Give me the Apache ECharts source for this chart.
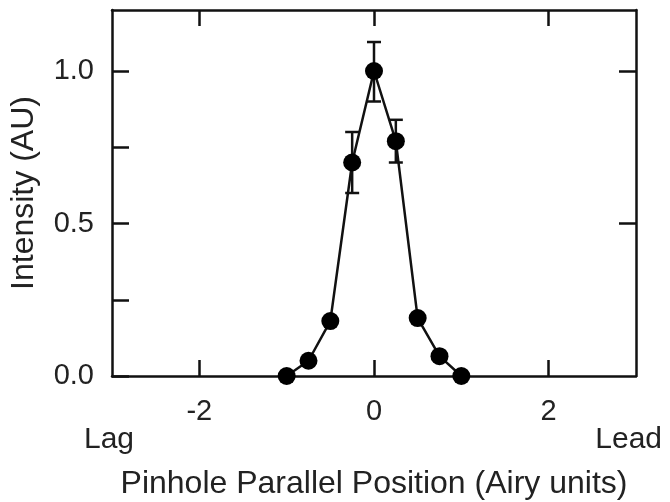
<!DOCTYPE html>
<html>
<head>
    <meta charset="utf-8">
    <title>Pinhole intensity</title>
    <script src="https://cdn.jsdelivr.net/npm/echarts@6/dist/echarts.min.js"></script>
    <style>
        html, body { margin: 0; padding: 0; background: #fff; }
        #main { width: 670px; height: 502px; }
    </style>
</head>
<body>
    <div id="main"></div>
    <script type="text/javascript">
        // pinhole positions (Airy units) and measured intensity
        var positions = [-1, -0.75, -0.5, -0.25, 0, 0.25, 0.5, 0.75, 1];
        var intensity = [0.0, 0.05, 0.18, 0.70, 1.0, 0.77, 0.19, 0.065, 0.0];
        // error bars: [position, low, high]
        var errorBars = [
            [-0.25, 0.60, 0.80],
            [0, 0.90, 1.095],
            [0.25, 0.70, 0.84]
        ];
        var xTickValues = [-2, 0, 2];
        var yTickValues = [0, 0.25, 0.5, 0.75, 1.0];
        var yLabelValues = [0, 0.5, 1.0];
        var yRightTicks = [0.5, 1.0];

        var textColor = '#222';
        var font = 'Liberation Sans, Arial, sans-serif';

        var lineData = [];
        for (var i = 0; i < positions.length; i++) {
            lineData.push([positions[i], intensity[i]]);
        }

        var myChart = echarts.init(document.getElementById('main'));

        var axisLine = { show: true, onZero: false, lineStyle: { color: '#111', width: 2.5 } };
        var tickStyle = { color: '#111', width: 2.5 };

        var option = {
            animation: false,
            grid: { left: 112, right: 34, top: 10, bottom: 126, containLabel: false, outerBoundsMode: 'none' },
            xAxis: [{
                type: 'value',
                min: -3,
                max: 3,
                position: 'bottom',
                axisLine: axisLine,
                splitLine: { show: false },
                axisTick: { show: true, inside: true, length: 16, customValues: xTickValues, lineStyle: tickStyle },
                axisLabel: { customValues: xTickValues, margin: 21, fontSize: 29,
                    color: textColor, fontFamily: font },
                name: 'Pinhole Parallel Position (Airy units)',
                nameLocation: 'middle',
                nameGap: 92,
                nameTextStyle: { fontSize: 32, color: textColor, fontFamily: font }
            }, {
                type: 'value',
                min: -3,
                max: 3,
                position: 'top',
                axisLine: axisLine,
                splitLine: { show: false },
                axisTick: { show: true, inside: true, length: 16, customValues: xTickValues, lineStyle: tickStyle },
                axisLabel: { show: false }
            }],
            yAxis: [{
                type: 'value',
                min: 0,
                max: 1.2,
                position: 'left',
                axisLine: axisLine,
                splitLine: { show: false },
                axisTick: { show: true, inside: true, length: 17, customValues: yTickValues, lineStyle: tickStyle },
                axisLabel: { customValues: yLabelValues, margin: 18, fontSize: 29,
                    color: textColor, fontFamily: font,
                    formatter: function (v) { return v.toFixed(1); } },
                name: 'Intensity (AU)',
                nameLocation: 'middle',
                nameGap: 72,
                nameTextStyle: { fontSize: 32, color: textColor, fontFamily: font }
            }, {
                type: 'value',
                min: 0,
                max: 1.2,
                position: 'right',
                axisLine: axisLine,
                splitLine: { show: false },
                axisTick: { show: true, inside: true, length: 17, customValues: yRightTicks, lineStyle: tickStyle },
                axisLabel: { show: false }
            }],
            graphic: [{
                type: 'text', left: 84, top: 425,
                style: { text: 'Lag', fill: textColor, font: '30px ' + font }
            }, {
                type: 'text', right: 8, top: 425,
                style: { text: 'Lead', fill: textColor, font: '30px ' + font }
            }],
            series: [{
                type: 'custom',
                xAxisIndex: 0,
                yAxisIndex: 0,
                z: 3,
                data: errorBars,
                renderItem: function (params, api) {
                    var x = api.value(0);
                    var lo = api.coord([x, api.value(1)]);
                    var hi = api.coord([x, api.value(2)]);
                    var w = 7;
                    var st = { stroke: '#111', lineWidth: 2.5 };
                    return {
                        type: 'group',
                        children: [
                            { type: 'line', shape: { x1: lo[0], y1: lo[1], x2: hi[0], y2: hi[1] }, style: st },
                            { type: 'line', shape: { x1: hi[0] - w, y1: hi[1], x2: hi[0] + w, y2: hi[1] }, style: st },
                            { type: 'line', shape: { x1: lo[0] - w, y1: lo[1], x2: lo[0] + w, y2: lo[1] }, style: st }
                        ]
                    };
                }
            }, {
                type: 'line',
                xAxisIndex: 0,
                yAxisIndex: 0,
                z: 4,
                data: lineData,
                symbol: 'circle',
                symbolSize: 18,
                clip: false,
                itemStyle: { color: '#000' },
                lineStyle: { color: '#111', width: 2.5 }
            }]
        };

        myChart.setOption(option);
        window.onresize = myChart.resize;
    </script>
</body>
</html>
